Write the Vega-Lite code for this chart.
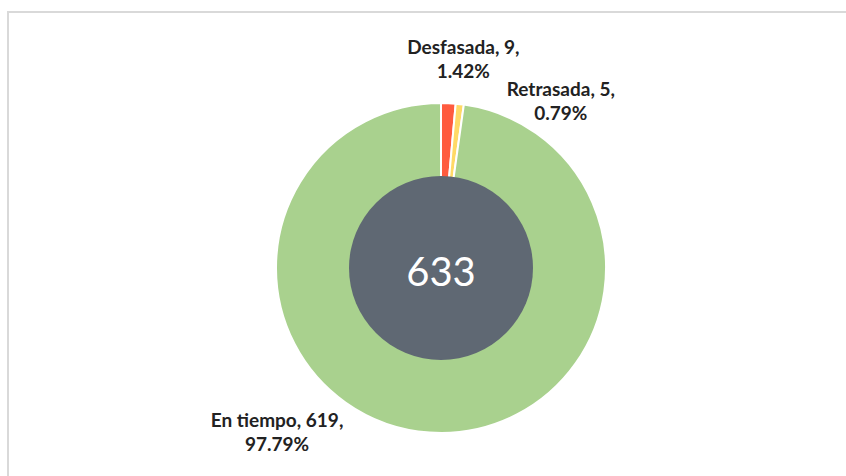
{
  "$schema": "https://vega.github.io/schema/vega-lite/v6.json",
  "width": 866,
  "height": 512,
  "autosize": {"type": "none"},
  "padding": {"left": 8, "top": 12, "right": 0, "bottom": 0},
  "background": "white",
  "view": {"stroke": "#d9d9d9", "strokeWidth": 2, "fill": "white"},
  "config": {"view": {"stroke": "#d9d9d9", "strokeWidth": 2}, "font": "Lato"},
  "datasets": {
    "status": [
      {"estado": "Desfasada", "valor": 9, "pct": "1.42%", "ord": 1},
      {"estado": "Retrasada", "valor": 5, "pct": "0.79%", "ord": 2},
      {"estado": "En tiempo", "valor": 619, "pct": "97.79%", "ord": 3}
    ],
    "total": [{"total": 633}]
  },
  "layer": [
    {
      "data": {"name": "status"},
      "mark": {"type": "arc", "outerRadius": 165, "innerRadius": 80, "stroke": "white", "strokeWidth": 2},
      "encoding": {
        "theta": {"field": "valor", "type": "quantitative", "stack": true},
        "order": {"field": "ord", "type": "quantitative"},
        "color": {"field": "estado", "type": "nominal", "legend": null,
          "scale": {"domain": ["Desfasada", "Retrasada", "En tiempo"], "range": ["#ff5b3f", "#ffd966", "#a9d18e"]}}
      }
    },
    {
      "data": {"name": "total"},
      "mark": {"type": "arc", "radius": 92, "color": "#5f6873"},
      "encoding": {"theta": {"field": "total", "type": "quantitative"}}
    },
    {
      "data": {"name": "total"},
      "mark": {"type": "text", "fontSize": 40, "color": "white", "baseline": "middle", "dy": 6},
      "encoding": {"text": {"field": "total", "type": "quantitative"}}
    },
    {
      "data": {"name": "status"},
      "transform": [{"calculate": "[datum.estado + ', ' + datum.valor + ',', datum.pct]", "as": "label"}],
      "mark": {"type": "text", "radius": 209, "dx": 13, "dy": -11, "fontSize": 19, "fontWeight": "bold", "lineHeight": 24, "color": "#222222", "baseline": "middle"},
      "encoding": {
        "theta": {"field": "valor", "type": "quantitative", "stack": true},
        "order": {"field": "ord", "type": "quantitative"},
        "text": {"field": "label"},
        "opacity": {"condition": {"test": "datum.estado === 'Desfasada'", "value": 1}, "value": 0}
      }
    },
    {
      "data": {"name": "status"},
      "transform": [{"calculate": "[datum.estado + ', ' + datum.valor + ',', datum.pct]", "as": "label"}],
      "mark": {"type": "text", "radius": 209, "dx": 96, "dy": 30, "fontSize": 19, "fontWeight": "bold", "lineHeight": 24, "color": "#222222", "baseline": "middle"},
      "encoding": {
        "theta": {"field": "valor", "type": "quantitative", "stack": true},
        "order": {"field": "ord", "type": "quantitative"},
        "text": {"field": "label"},
        "opacity": {"condition": {"test": "datum.estado === 'Retrasada'", "value": 1}, "value": 0}
      }
    },
    {
      "data": {"name": "status"},
      "transform": [{"calculate": "[datum.estado + ', ' + datum.valor + ',', datum.pct]", "as": "label"}],
      "mark": {"type": "text", "radius": 230, "dx": -148, "dy": -76, "fontSize": 19, "fontWeight": "bold", "lineHeight": 24, "color": "#222222", "baseline": "middle"},
      "encoding": {
        "theta": {"field": "valor", "type": "quantitative", "stack": true},
        "order": {"field": "ord", "type": "quantitative"},
        "text": {"field": "label"},
        "opacity": {"condition": {"test": "datum.estado === 'En tiempo'", "value": 1}, "value": 0}
      }
    }
  ]
}
